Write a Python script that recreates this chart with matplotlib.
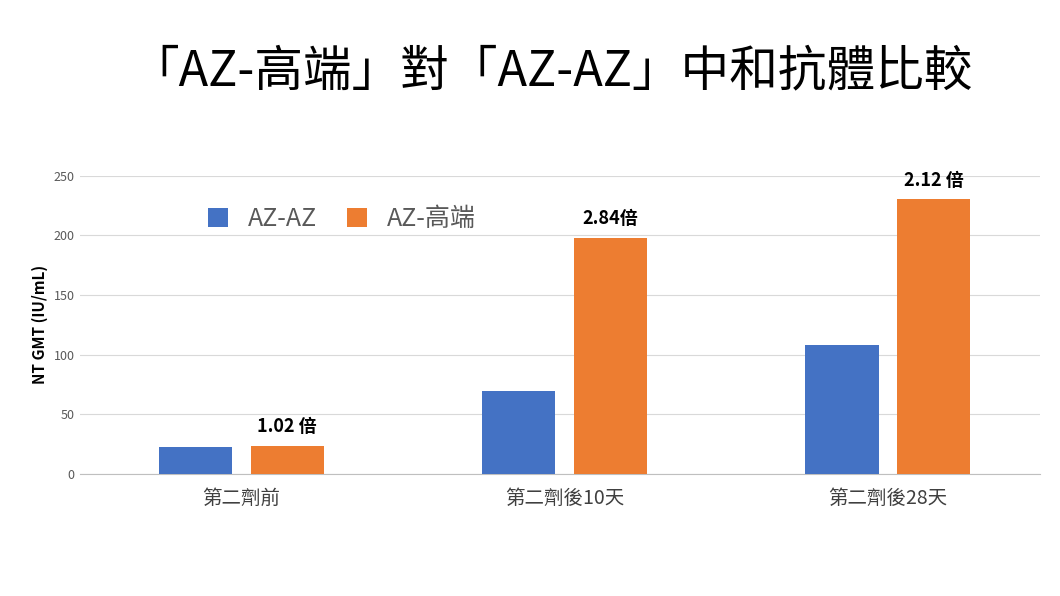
import matplotlib
matplotlib.use("Agg")
import matplotlib.pyplot as plt
import numpy as np

plt.rcParams['font.family'] = ['Noto Sans CJK TC', 'DejaVu Sans']

categories = ["第二劑前", "第二劑後10天", "第二劑後28天"]
az_az = [22.6, 69.6, 108]
az_gd = [23.5, 198, 230.5]
ratios = ["1.02 倍", "2.84倍", "2.12 倍"]

fig = plt.figure(figsize=(10.6, 5.96), dpi=100)
ax = fig.add_axes([0.075, 0.205, 0.906, 0.5])
x = np.arange(len(categories))
w = 0.226
off = 0.142
ax.bar(x - off, az_az, w, color='#4472C4', label='AZ-AZ', zorder=3)
ax.bar(x + off, az_gd, w, color='#ED7D31', label='AZ-高端', zorder=3)
for xi, v, t in zip(x, az_gd, ratios):
    ax.text(xi + off, v + 8, t, ha='center', va='bottom', fontsize=13, fontweight='bold')
ax.set_xlim(-0.5, 2.47)
ax.set_ylim(0, 250)
ax.set_yticks(range(0, 251, 50))
ax.grid(axis='y', color='#D9D9D9', lw=0.8, zorder=0)
for s in ['top', 'right', 'left']:
    ax.spines[s].set_visible(False)
ax.spines['bottom'].set_color('#BFBFBF')
ax.tick_params(axis='y', length=0, labelsize=9, colors='#595959')
ax.tick_params(axis='x', length=0, labelsize=14, colors='#404040', pad=10)
ax.set_xticks(x)
ax.set_xticklabels(categories)
ax.set_ylabel('NT GMT (IU/mL)', fontsize=11, fontweight='bold')
ax.legend(loc='upper left', bbox_to_anchor=(0.11, 0.975), ncol=2, frameon=False,
          fontsize=18, handlelength=0.8, handleheight=0.8, columnspacing=1.2,
          labelcolor='#595959')
fig.text(0.52, 0.88, "「AZ-高端」對「AZ-AZ」中和抗體比較", ha='center', va='center', fontsize=35)
fig.savefig('out.png', dpi=100)
